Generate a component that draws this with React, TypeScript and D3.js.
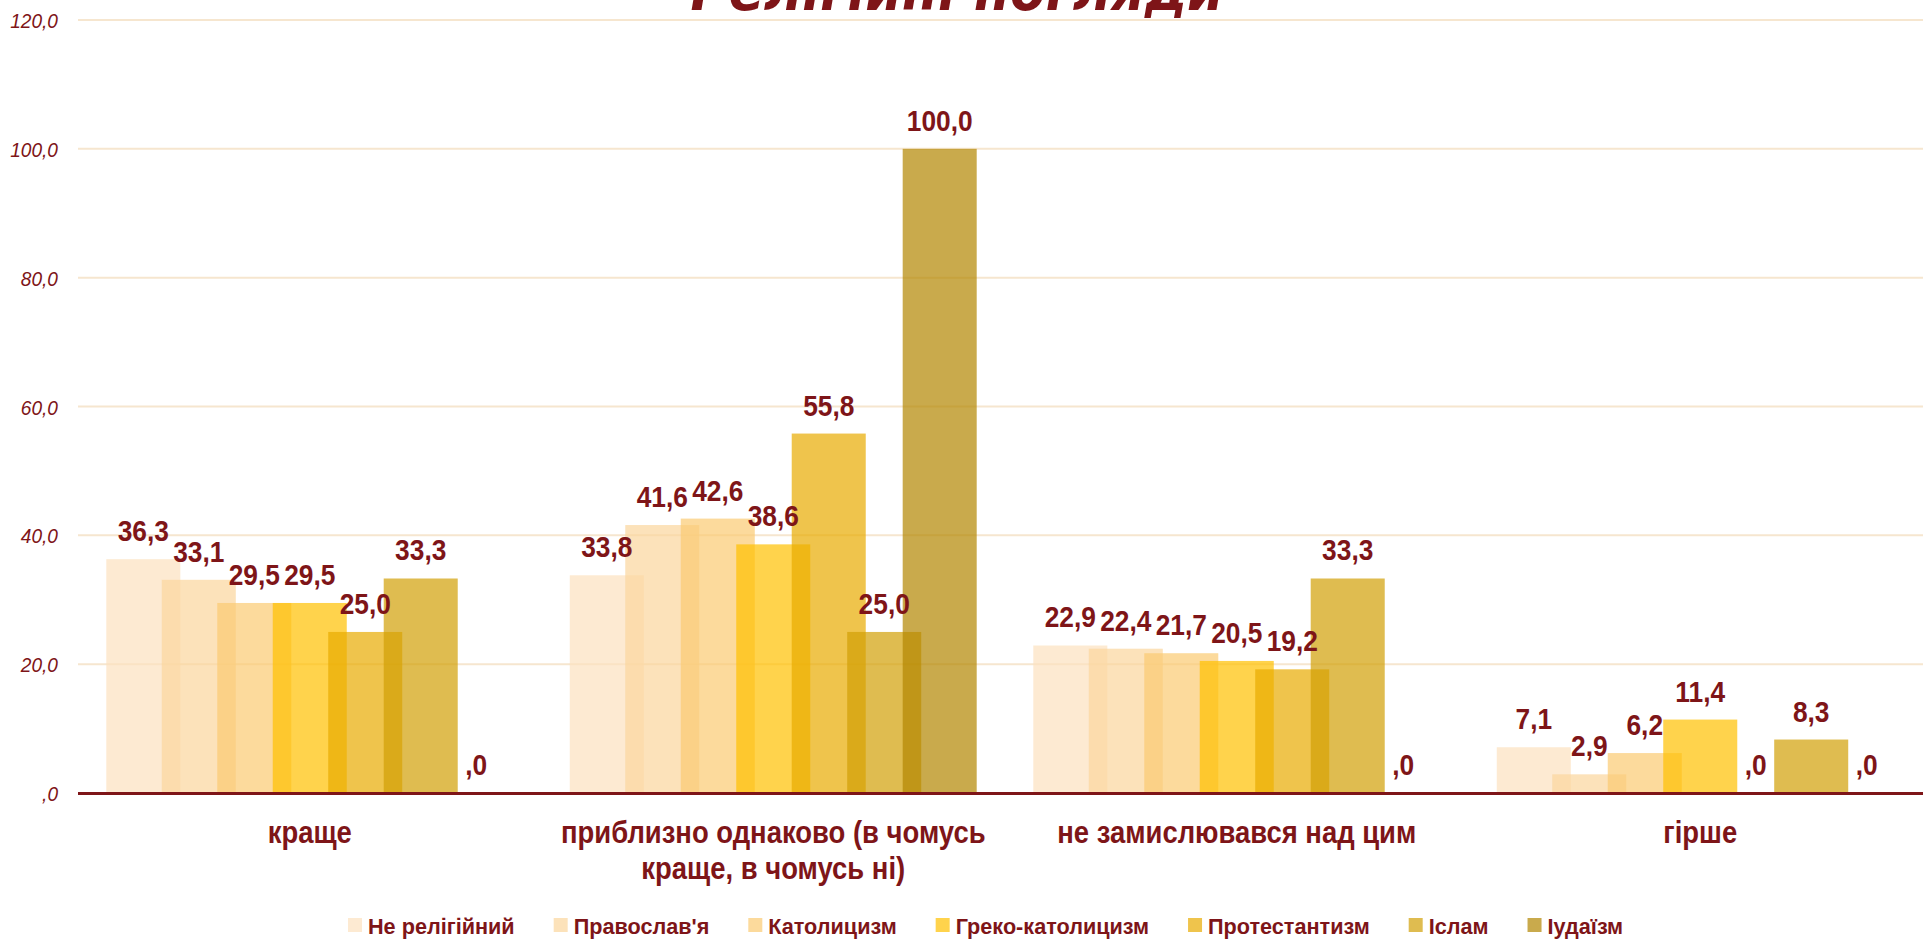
import React, { useEffect, useRef } from 'react';
import * as d3 from 'd3';

const title = 'Релігійні погляди';
const categories = [
  'краще',
  'приблизно однаково (в чомусь краще, в чомусь ні)',
  'не замислювався над цим',
  'гірше',
];
const seriesNames = ['Не релігійний', "Православ'я", 'Католицизм', 'Греко-католицизм', 'Протестантизм', 'Іслам', 'Іудаїзм'];
const nonReligious = [36.3, 33.8, 22.9, 7.1];
const orthodox = [33.1, 41.6, 22.4, 2.9];
const catholic = [29.5, 42.6, 21.7, 6.2];
const greekCatholic = [29.5, 38.6, 20.5, 11.4];
const protestant = [25.0, 55.8, 19.2, 0.0];
const islam = [33.3, 25.0, 33.3, 8.3];
const judaism = [0.0, 100.0, 0.0, 0.0];
const seriesValues = [nonReligious, orthodox, catholic, greekCatholic, protestant, islam, judaism];
const seriesColors = ['#FCE1BF', '#FBD69D', '#FBCA72', '#FFC000', '#E8AB00', '#D19F05', '#B28600'];
const yTicks = [0, 20, 40, 60, 80, 100, 120];

const W = 1923;
const H = 941;
const DARK = '#7E1518';
const GRID = '#F6E6CF';

const fmt = (v: number) => (v === 0 ? ',0' : v.toFixed(1).replace('.', ','));

export default function App() {
  const ref = useRef<SVGSVGElement>(null);

  useEffect(() => {
    const svg = d3.select(ref.current as SVGSVGElement);
    svg.selectAll('*').remove();

    // detect narrow font availability
    const probe = svg.append('text').attr('font-size', 100).text('Православ Narrow');
    probe.attr('font-family', "'Liberation Sans Narrow', monospace");
    const wN = (probe.node() as SVGTextElement).getComputedTextLength();
    probe.attr('font-family', 'monospace');
    const wM = (probe.node() as SVGTextElement).getComputedTextLength();
    probe.remove();
    const hasNarrow = Math.abs(wN - wM) > 1;
    const family = hasNarrow ? "'Liberation Sans Narrow', 'Arial Narrow', sans-serif" : "'Liberation Sans', Arial, sans-serif";
    const baseSx = hasNarrow ? 1 : 0.82;

    const addText = (
      parent: any,
      x: number,
      y: number,
      str: string,
      size: number,
      anchor: string,
      weight: string,
      stretch: number,
      style = 'normal'
    ) => {
      const sx = baseSx * stretch;
      const g = parent.append('g').attr('transform', `translate(${x},${y}) scale(${sx},1)`);
      const t = g
        .append('text')
        .attr('font-family', family)
        .attr('font-size', size)
        .attr('font-weight', weight)
        .attr('font-style', style)
        .attr('fill', DARK)
        .attr('text-anchor', anchor)
        .text(str);
      return (t.node() as SVGTextElement).getComputedTextLength() * sx;
    };

    const measure = (str: string, size: number, weight: string, stretch: number) => {
      const t = svg
        .append('text')
        .attr('font-family', family)
        .attr('font-size', size)
        .attr('font-weight', weight)
        .text(str);
      const w = (t.node() as SVGTextElement).getComputedTextLength() * baseSx * stretch;
      t.remove();
      return w;
    };

    const plotLeft = 78;
    const plotRight = 1932;
    const x = d3.scaleBand<string>().domain(categories).range([plotLeft, plotRight]).padding(0);
    const y = d3.scaleLinear().domain([0, 120]).range([793, 20]);
    const bw = x.bandwidth();
    const step = bw * 0.1197;
    const barW = bw * 0.1597;
    const groupSpan = step * (seriesNames.length - 1) + barW;
    const groupOff = (bw - groupSpan) / 2;

    // gridlines
    svg
      .append('g')
      .selectAll('line')
      .data(yTicks.filter((t) => t > 0))
      .join('line')
      .attr('x1', plotLeft)
      .attr('x2', W)
      .attr('y1', (d) => y(d))
      .attr('y2', (d) => y(d))
      .attr('stroke', GRID)
      .attr('stroke-width', 2);

    // y tick labels
    const yAxisG = svg.append('g');
    yTicks.forEach((t) => addText(yAxisG, 58, y(t) + 8, fmt(t), 21, 'end', 'normal', 1.11, 'italic'));

    // bars
    const barsG = svg.append('g');
    seriesValues.forEach((vals, s) => {
      barsG
        .append('g')
        .selectAll('rect')
        .data(vals.map((v, i) => ({ v, c: categories[i] })))
        .join('rect')
        .attr('x', (d) => (x(d.c) as number) + groupOff + s * step)
        .attr('width', barW)
        .attr('y', (d) => y(d.v))
        .attr('height', (d) => y(0) - y(d.v))
        .attr('fill', seriesColors[s])
        .attr('fill-opacity', 0.7);
    });

    // baseline
    svg
      .append('line')
      .attr('x1', plotLeft)
      .attr('x2', W)
      .attr('y1', y(0) + 0.5)
      .attr('y2', y(0) + 0.5)
      .attr('stroke', DARK)
      .attr('stroke-width', 3);

    // data labels
    const lblG = svg.append('g');
    seriesValues.forEach((vals, s) => {
      vals.forEach((v, i) => {
        const cx = (x(categories[i]) as number) + groupOff + s * step + barW / 2;
        addText(lblG, cx, y(v) - 18, fmt(v), 30, 'middle', 'bold', 1.07);
      });
    });

    // category labels (wrapped)
    const catG = svg.append('g');
    const catStretch = 1.08;
    const catSize = 31;
    categories.forEach((c) => {
      const words = c.split(' ');
      const lines: string[] = [];
      let cur = '';
      words.forEach((w) => {
        const test = cur ? cur + ' ' + w : w;
        if (cur && measure(test, catSize, 'bold', catStretch) > bw * 0.97) {
          lines.push(cur);
          cur = w;
        } else cur = test;
      });
      if (cur) lines.push(cur);
      const cx = (x(c) as number) + bw / 2;
      lines.forEach((ln, li) => addText(catG, cx, 843 + li * 36, ln, catSize, 'middle', 'bold', catStretch));
    });

    // legend
    const legG = svg.append('g');
    let lx = 348;
    seriesNames.forEach((n, s) => {
      legG
        .append('rect')
        .attr('x', lx)
        .attr('y', 918)
        .attr('width', 14)
        .attr('height', 14)
        .attr('fill', seriesColors[s])
        .attr('fill-opacity', 0.7);
      const tw = addText(legG, lx + 20, 934, n, 22, 'start', 'bold', 1.2);
      lx += 20 + tw + 39;
    });

    // title (mostly cut off at top, as in the source)
    svg
      .append('text')
      .attr('x', 957)
      .attr('y', 10)
      .attr('font-family', "'DejaVu Sans', sans-serif")
      .attr('font-size', 58)
      .attr('font-weight', 'bold')
      .attr('font-style', 'italic')
      .attr('fill', DARK)
      .attr('text-anchor', 'middle')
      .attr('textLength', 533)
      .attr('lengthAdjust', 'spacingAndGlyphs')
      .text(title);
  }, []);

  return (
    <svg
      ref={ref}
      width={W}
      height={H}
      style={{ position: 'absolute', left: 0, top: 0, background: '#FFFFFF', display: 'block' }}
    />
  );
}
